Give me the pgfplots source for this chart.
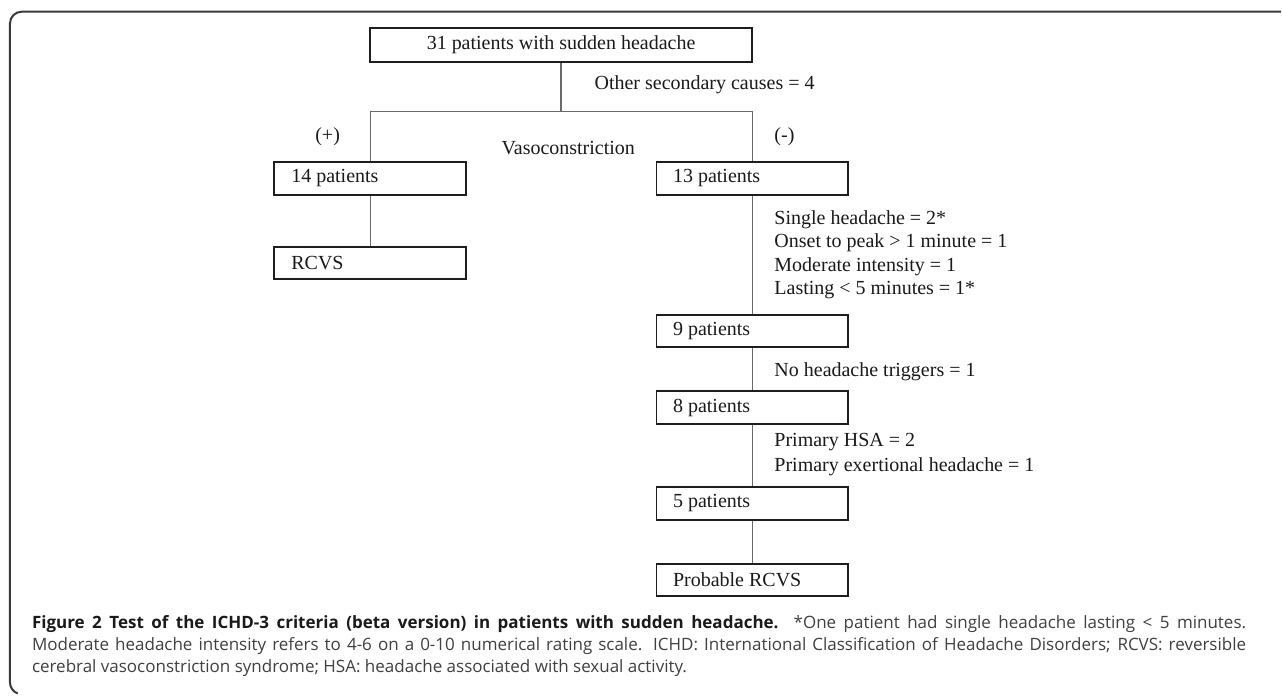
\documentclass[border=0pt]{standalone}
\usepackage{fontspec}
\setmainfont{Liberation Serif}
\newfontfamily\capfont{Open Sans}
\usepackage{pgfplots}
\pgfplotsset{compat=1.18}
\definecolor{boxc}{HTML}{1E1E1E}
\definecolor{linec}{HTML}{6A6A6A}
\definecolor{framec}{HTML}{3A3A3A}
\definecolor{txt}{HTML}{1A1A1A}
\definecolor{captxt}{HTML}{404040}
\begin{document}
\begin{tikzpicture}
\begin{axis}[
  scale only axis, width=641pt, height=348pt,
  xmin=0, xmax=1282, ymin=0, ymax=696, y dir=reverse,
  hide axis, clip=false,
  every node/.style={inner sep=0pt, outer sep=0pt},
]
\fill[white] (axis cs:0,0) rectangle (axis cs:1282,696);
% outer frame
\draw[framec, line width=1pt]
  (axis cs:1282,11.7) -- (axis cs:21.7,11.7) arc[start angle=90, end angle=180, radius=5.85pt]
  -- (axis cs:10,683) arc[start angle=180, end angle=250, radius=5.85pt];
% connectors
\addplot[linec, line width=0.6pt] coordinates {(561.5,62) (561.5,111.7)};
\addplot[linec, line width=0.6pt] coordinates {(370.5,162.3) (370.5,111.7) (753,111.7) (753,162.3)};
\addplot[linec, line width=0.6pt] coordinates {(370.5,195) (370.5,247)};
\addplot[linec, line width=0.6pt] coordinates {(753,195) (753,315)};
\addplot[linec, line width=0.6pt] coordinates {(753,347.3) (753,391.7)};
\addplot[linec, line width=0.6pt] coordinates {(753,424) (753,487.7)};
\addplot[linec, line width=0.6pt] coordinates {(753,520) (753,564.3)};
% boxes
\draw[boxc, line width=1pt] (axis cs:370,28.3) rectangle (axis cs:753,61.7);
\draw[boxc, line width=1pt] (axis cs:274.5,162.3) rectangle (axis cs:466,195);
\draw[boxc, line width=1pt] (axis cs:657,162.3) rectangle (axis cs:849,195);
\draw[boxc, line width=1pt] (axis cs:274.5,247) rectangle (axis cs:466,279.5);
\draw[boxc, line width=1pt] (axis cs:657,315) rectangle (axis cs:849,347.3);
\draw[boxc, line width=1pt] (axis cs:657,391.7) rectangle (axis cs:849,424);
\draw[boxc, line width=1pt] (axis cs:657,487.7) rectangle (axis cs:849,520);
\draw[boxc, line width=1pt] (axis cs:657,564.3) rectangle (axis cs:849,596.7);
% box texts
\node[txt, font=\fontsize{10pt}{12pt}\selectfont] at (axis cs:561.5,45) {31 patients with sudden headache};
\node[txt, anchor=west, font=\fontsize{10pt}{12pt}\selectfont] at (axis cs:284.5,178.6) {14 patients};
\node[txt, anchor=west, font=\fontsize{10pt}{12pt}\selectfont] at (axis cs:666.5,178.6) {13 patients};
\node[txt, anchor=west, font=\fontsize{10pt}{12pt}\selectfont] at (axis cs:284.5,263.2) {RCVS};
\node[txt, anchor=west, font=\fontsize{10pt}{12pt}\selectfont] at (axis cs:666.5,331.1) {9 patients};
\node[txt, anchor=west, font=\fontsize{10pt}{12pt}\selectfont] at (axis cs:666.5,407.8) {8 patients};
\node[txt, anchor=west, font=\fontsize{10pt}{12pt}\selectfont] at (axis cs:666.5,503.8) {5 patients};
\node[txt, anchor=west, font=\fontsize{10pt}{12pt}\selectfont] at (axis cs:666.5,580.5) {Probable RCVS};
% free labels
\node[txt, anchor=west, font=\fontsize{10pt}{12pt}\selectfont] at (axis cs:588,85) {Other secondary causes = 4};
\node[txt, anchor=west, font=\fontsize{10pt}{12pt}\selectfont] at (axis cs:308.5,136.7) {(+)};
\node[txt, anchor=west, font=\fontsize{10pt}{12pt}\selectfont] at (axis cs:495,148.3) {Vasoconstriction};
\node[txt, anchor=west, font=\fontsize{10pt}{12pt}\selectfont] at (axis cs:768,136.7) {(-)};
\node[txt, anchor=west, font=\fontsize{10pt}{12pt}\selectfont] at (axis cs:768,220) {Single headache = 2*};
\node[txt, anchor=west, font=\fontsize{10pt}{12pt}\selectfont] at (axis cs:768,243.3) {Onset to peak > 1 minute = 1};
\node[txt, anchor=west, font=\fontsize{10pt}{12pt}\selectfont] at (axis cs:768,266.7) {Moderate intensity = 1};
\node[txt, anchor=west, font=\fontsize{10pt}{12pt}\selectfont] at (axis cs:768,290) {Lasting < 5 minutes = 1*};
\node[txt, anchor=west, font=\fontsize{10pt}{12pt}\selectfont] at (axis cs:768,371.7) {No headache triggers = 1};
\node[txt, anchor=west, font=\fontsize{10pt}{12pt}\selectfont] at (axis cs:768,442.7) {Primary HSA = 2};
\node[txt, anchor=west, font=\fontsize{10pt}{12pt}\selectfont] at (axis cs:768,467.3) {Primary exertional headache = 1};
% caption
\node[captxt, anchor=base west, font=\capfont\fontsize{8.5pt}{11pt}\selectfont] at (axis cs:25,629)
  {\makebox[607.5pt][s]{{\color{txt}\bfseries Figure 2 Test of the ICHD-3 criteria (beta version) in patients with sudden headache.} *One patient had single headache lasting < 5 minutes.}};
\node[captxt, anchor=base west, font=\capfont\fontsize{8.5pt}{11pt}\selectfont] at (axis cs:25,651)
  {\makebox[607.5pt][s]{Moderate headache intensity refers to 4-6 on a 0-10 numerical rating scale. ICHD: International Classification of Headache Disorders; RCVS: reversible}};
\node[captxt, anchor=base west, font=\capfont\fontsize{8.5pt}{11pt}\selectfont] at (axis cs:25,673)
  {cerebral vasoconstriction syndrome; HSA: headache associated with sexual activity.};
\end{axis}
\end{tikzpicture}
\end{document}
